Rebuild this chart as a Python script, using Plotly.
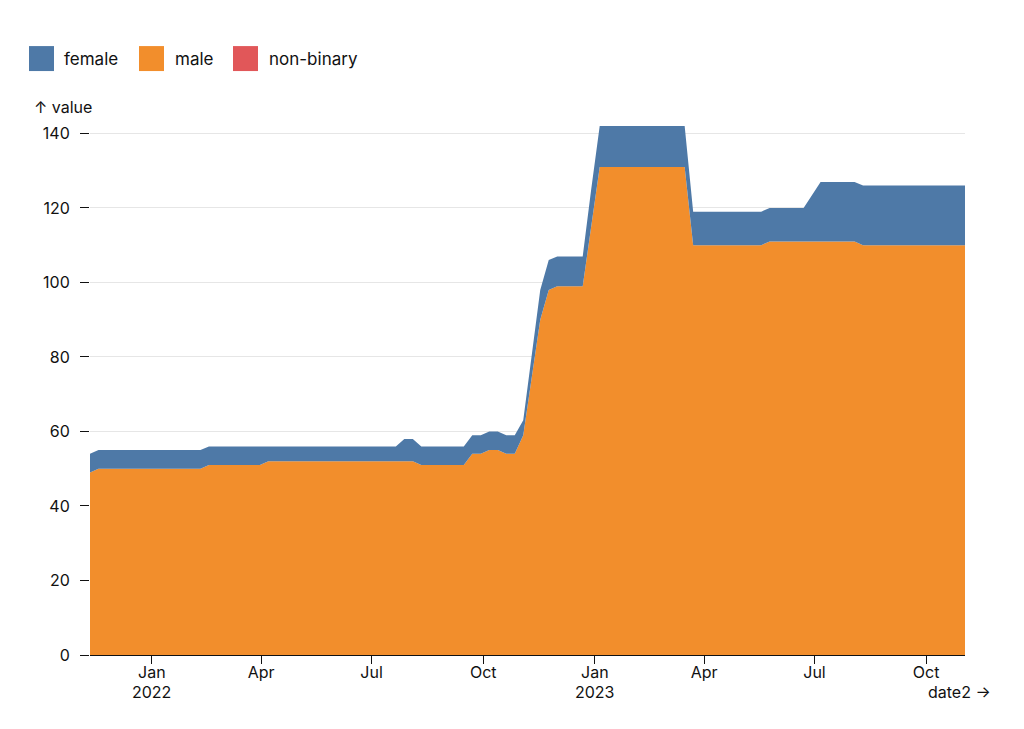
import pandas as pd
import plotly.graph_objects as go

# ---- data ----
start_date = "2021-11-11"
n_weeks = 104
dates = pd.date_range(start_date, periods=n_weeks, freq="7D")

male = [49, 50, 50, 50, 50, 50, 50, 50, 50, 50, 50, 50, 50, 50,
        51, 51, 51, 51, 51, 51, 51,
        52, 52, 52, 52, 52, 52, 52, 52, 52, 52, 52, 52, 52, 52, 52, 52, 52, 52,
        51, 51, 51, 51, 51, 51,
        54, 54, 55, 55, 54, 54,
        59, 75, 90, 98, 99, 99, 99, 99, 115,
        131, 131, 131, 131, 131, 131, 131, 131, 131, 131, 131,
        110, 110, 110, 110, 110, 110, 110, 110, 110,
        111, 111, 111, 111, 111, 111, 111, 111, 111, 111, 111,
        110, 110, 110, 110, 110, 110, 110, 110, 110, 110, 110, 110, 110]

female = [5, 5, 5, 5, 5, 5, 5, 5, 5, 5, 5, 5, 5, 5, 5, 5, 5, 5, 5, 5, 5,
          4, 4, 4, 4, 4, 4, 4, 4, 4, 4, 4, 4, 4, 4, 4, 4,
          6, 6,
          5, 5, 5, 5, 5, 5, 5, 5, 5, 5, 5, 5,
          4, 6, 8, 8, 8, 8, 8, 8, 10,
          11, 11, 11, 11, 11, 11, 11, 11, 11, 11, 11,
          9, 9, 9, 9, 9, 9, 9, 9, 9, 9, 9, 9, 9, 9,
          12.5,
          16, 16, 16, 16, 16, 16, 16, 16, 16, 16, 16, 16, 16, 16, 16, 16, 16, 16]

non_binary = [0, 0, 0, 0, 0, 0, 0, 0, 0, 0, 0, 0, 0,
              0, 0, 0, 0, 0, 0, 0, 0, 0, 0, 0, 0, 0,
              0, 0, 0, 0, 0, 0, 0, 0, 0, 0, 0, 0, 0,
              0, 0, 0, 0, 0, 0, 0, 0, 0, 0, 0, 0, 0,
              0, 0, 0, 0, 0, 0, 0, 0, 0, 0, 0, 0, 0,
              0, 0, 0, 0, 0, 0, 0, 0, 0, 0, 0, 0, 0,
              0, 0, 0, 0, 0, 0, 0, 0, 0, 0, 0, 0, 0,
              0, 0, 0, 0, 0, 0, 0, 0, 0, 0, 0, 0, 0]

series_names = ["female", "male", "non-binary"]
series_colors = {"female": "#4e79a7", "male": "#f28e2c", "non-binary": "#e15759"}

x_tick_vals = ["2022-01-01", "2022-04-01", "2022-07-01", "2022-10-01",
               "2023-01-01", "2023-04-01", "2023-07-01", "2023-10-01"]
x_tick_text = ["Jan", "Apr", "Jul", "Oct", "Jan", "Apr", "Jul", "Oct"]
year_tick_vals = ["2022-01-01", "2023-01-01"]
year_tick_text = ["2022", "2023"]
y_tick_vals = [0, 20, 40, 60, 80, 100, 120, 140]

assert len(male) == n_weeks and len(female) == n_weeks and len(non_binary) == n_weeks

# ---- geometry ----
W, H = 1024, 729
L, R = 90, 965          # plot left/right in px
T, B = 125.5, 655       # plot top/bottom in px
FONT = "Inter, 'Open Sans', sans-serif"
INK = "#111"


def px_x(px):
    return (px - L) / (R - L)


def px_y(py):
    return (B - py) / (B - T)


fig = go.Figure()
stack_data = {"male": male, "female": female, "non-binary": non_binary}
for name in ["male", "female", "non-binary"]:
    fig.add_trace(go.Scatter(
        x=dates, y=stack_data[name], name=name, mode="lines",
        stackgroup="one", line=dict(width=0, color=series_colors[name]),
        fillcolor=series_colors[name], showlegend=False,
        hovertemplate="%{x|%b %d, %Y}<br>" + name + ": %{y}<extra></extra>",
    ))

shapes = []
annotations = []

# custom legend (swatches)
legend_pos = {"female": (29, 62), "male": (139, 173), "non-binary": (233, 267)}
for name in series_names:
    sx, tx = legend_pos[name]
    shapes.append(dict(type="rect", xref="paper", yref="paper",
                       x0=px_x(sx), x1=px_x(sx + 25), y0=px_y(70.5), y1=px_y(45.5),
                       fillcolor=series_colors[name], line=dict(width=0)))
    annotations.append(dict(text=name, xref="paper", yref="paper",
                            x=px_x(tx), y=px_y(58), xanchor="left", yanchor="middle",
                            showarrow=False, font=dict(size=17, color=INK, family=FONT)))

# year labels under the January ticks
for xv, txt in zip(year_tick_vals, year_tick_text):
    annotations.append(dict(text=txt, xref="x", yref="paper",
                            x=xv, y=px_y(692), xanchor="center", yanchor="middle",
                            showarrow=False, borderpad=0,
                            font=dict(size=16, color=INK, family=FONT)))

# axis labels
annotations.append(dict(text="↑ value", xref="paper", yref="paper",
                        x=px_x(32), y=px_y(106), xanchor="left", yanchor="middle",
                        showarrow=False, font=dict(size=16, color=INK, family=FONT)))
annotations.append(dict(text="date2 →", xref="paper", yref="paper",
                        x=px_x(993), y=px_y(692), xanchor="right", yanchor="middle",
                        showarrow=False, font=dict(size=16, color=INK, family=FONT)))

fig.update_layout(
    width=W, height=H, autosize=False,
    margin=dict(l=L, r=W - R, t=T, b=H - B, pad=0),
    paper_bgcolor="white", plot_bgcolor="white",
    font=dict(family=FONT, size=16, color=INK),
    shapes=shapes, annotations=annotations,
    showlegend=False,
    xaxis=dict(type="date", range=[dates[0], dates[-1]],
               tickmode="array", tickvals=x_tick_vals, ticktext=x_tick_text,
               ticks="outside", ticklen=8, tickwidth=1, tickcolor=INK,
               showgrid=False, zeroline=False,
               showline=True, linecolor=INK, linewidth=1,
               ticklabelstandoff=-5,
               tickfont=dict(size=16, color=INK, family=FONT)),
    yaxis=dict(range=[0, 142], tickmode="array", tickvals=y_tick_vals,
               ticks="outside", ticklen=9, tickwidth=1, tickcolor=INK,
               showgrid=True, gridcolor="#e6e6e6", gridwidth=1,
               zeroline=False, showline=False,
               ticklabelstandoff=7,
               tickfont=dict(size=16, color=INK, family=FONT)),
)

fig.write_html("out.html")
